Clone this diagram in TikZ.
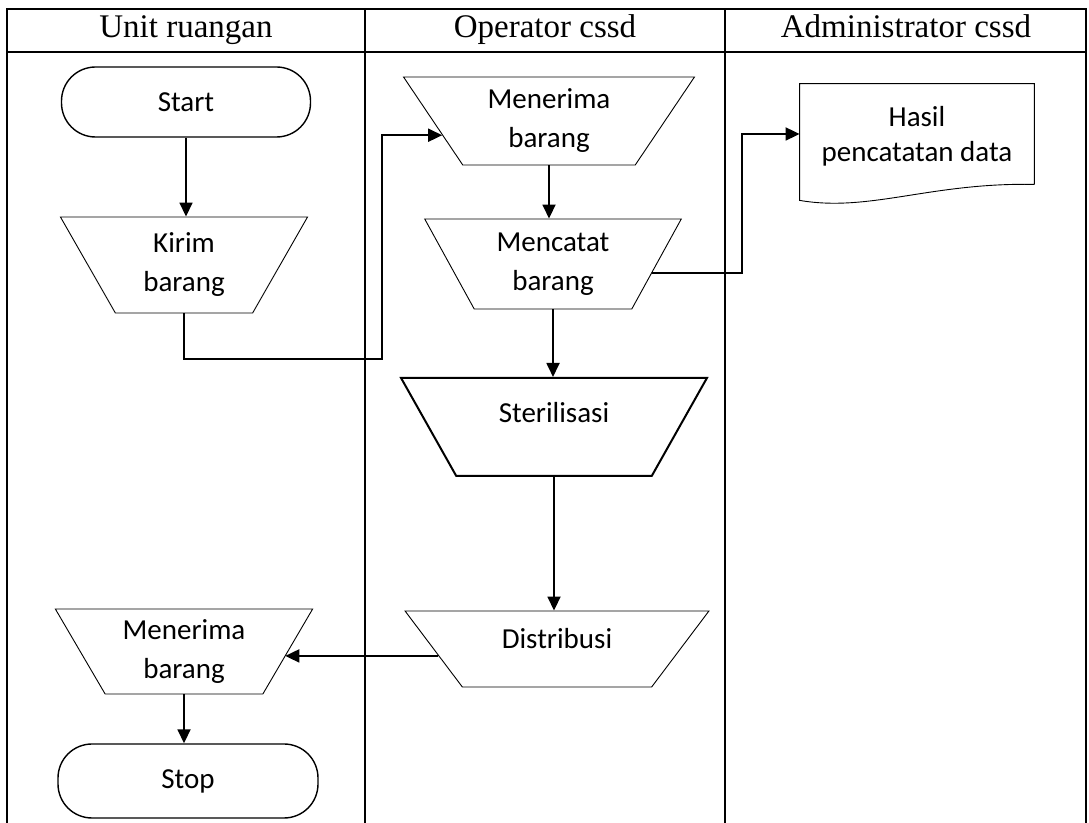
\documentclass[tikz,border=0pt]{standalone}
\usepackage{fontspec}
\setmainfont{Liberation Serif}
\newfontfamily\calibri{Carlito}
\usetikzlibrary{
    arrows.meta,
    shapes.geometric,
    calc
}
\tikzset{
    teks/.style={font=\calibri\fontsize{14.5}{19.5}\selectfont, align=center},
    judul/.style={font=\fontsize{16.5}{19}\selectfont, text height=11.5pt, text depth=3.5pt},
    terminal/.style={teks, draw, rounded corners=17pt, line width=0.7pt},
    manual/.style={teks, draw, trapezium, trapezium stretches=true,
        trapezium left angle=#1, trapezium right angle=#1, line width=0.45pt, inner sep=0pt},
    dokumen/.style={teks, font=\calibri\fontsize{14.5}{17.5}\selectfont,
        minimum width=117pt, minimum height=50pt},
    panah/.style={-{Triangle[length=7pt,width=6.5pt]}, line width=0.9pt},
    garis/.style={line width=1.3pt}
}

\begin{document}
\begin{tikzpicture}[x=0.5pt, y=-0.5pt]
                \useasboundingbox (0,0) rectangle (1089,823);
                % tabel
                \draw[garis] (7,823) -- (7,9) -- (1086,9) -- (1086,823);
                \draw[garis] (7,52) -- (1086,52);
                \foreach \x in {365,725}
                    \draw[garis] (\x,9) -- (\x,823);
                \foreach \x/\kolom [count=\i] in {186/Unit ruangan, 545/Operator cssd, 906/Administrator cssd}
                    \node[judul] (kolom\i) at (\x,30) {\kolom};

                % unit ruangan
                \node[terminal, minimum width=124.5pt, minimum height=35pt] (start) at (186,102) {Start};
                \node[manual=117, minimum width=124pt, minimum height=48pt] (kirim) at (184,265) {Kirim\\barang};
                \node[manual=121.2, minimum width=130pt, minimum height=42.5pt] (terima2) at (184,651.5) {Menerima\\barang};
                \node[terminal, minimum width=130pt, minimum height=37pt] (stop) at (188,781) {Stop};

                % operator cssd
                \node[manual=123.4, minimum width=145.5pt, minimum height=44pt] (terima) at (549,121) {Menerima\\barang};
                \node[manual=119.5, minimum width=129.5pt, minimum height=45pt] (catat) at (553,264) {Mencatat\\barang};
                \node[manual=122.1, minimum width=154pt, minimum height=49pt, line width=1pt,
                    text depth=14.8pt] (steril) at (554,427) {Sterilisasi};
                \node[manual=128.7, minimum width=153pt, minimum height=38pt,
                    text depth=10.8pt] (distribusi) at (557,649) {Distribusi};

                % administrator cssd
                \node[dokumen, text depth=0pt] (hasil) at (917,134) {Hasil\\pencatatan data};
                \draw[line width=0.45pt] (hasil.south east) -- (hasil.north east) -- (hasil.north west)
                    -- ([yshift=-8pt]hasil.south west)
                    .. controls ([xshift=35pt,yshift=-14pt]hasil.south west) and ([xshift=-52pt,yshift=1pt]hasil.south east) .. (hasil.south east);

                % alur
                \coordinate (k1) at (382,359);
                \coordinate (h1) at (742,0);
                \coordinate (m_in) at ($(terima.top left corner)!0.66!(terima.bottom left corner)$);
                \coordinate (c_out) at ($(catat.top right corner)!0.6!(catat.bottom right corner)$);
                \coordinate (d_out) at ($(distribusi.top left corner)!0.59!(distribusi.bottom left corner)$);
                \coordinate (t_in) at ($(terima2.top right corner)!0.56!(terima2.bottom right corner)$);

                \draw[panah] (start.south) -- (start.south |- kirim.north);
                \draw[panah] (kirim.south) |- (k1) |- (m_in);
                \draw[panah] (terima.south) -- (terima.south |- catat.north);
                \draw[panah] (c_out) -- (c_out -| h1) |- (hasil);
                \draw[panah] (catat.south) -- (catat.south |- steril.north);
                \draw[panah] (steril.south) -- (steril.south |- distribusi.north);
                \draw[panah] (d_out) -- (d_out -| t_in);
                \draw[panah] (terima2.south) -- (terima2.south |- stop.north);
\end{tikzpicture}
\end{document}
